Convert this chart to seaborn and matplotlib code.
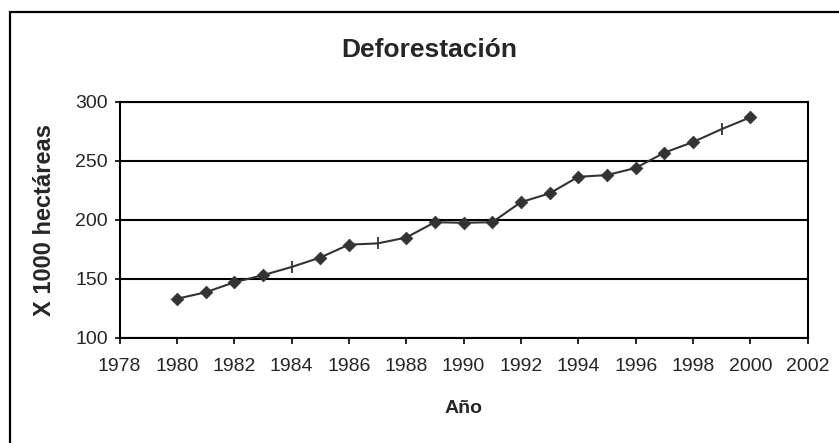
import matplotlib
matplotlib.use("Agg")
import matplotlib.pyplot as plt
import seaborn as sns
import pandas as pd
from matplotlib.patches import Rectangle

# datos
anios = list(range(1980, 2001))
hectareas = [133, 138.5, 147, 153, 160, 168, 179, 180, 185, 198, 197.5,
             198, 215, 222.5, 236.5, 238, 244, 257, 266, 277, 287]
# puntos que en el original salen con una raya en vez de rombo
sin_rombo = [1984, 1987, 1999]

y_ticks = [100, 150, 200, 250, 300]
x_ticks = list(range(1978, 2003, 2))

data = pd.DataFrame({"anio": anios, "valor": hectareas})
data["rombo"] = ~data["anio"].isin(sin_rombo)

sns.set_style("white")
plt.rcParams["font.family"] = ["Liberation Sans", "DejaVu Sans"]

fig = plt.figure(figsize=(8.39, 4.43), dpi=100)
ax = fig.add_axes([119.5 / 839, 1 - 337.7 / 443, 688.2 / 839, 235.7 / 443])

color = "#333333"
sns.lineplot(x="anio", y="valor", data=data, color=color, linewidth=1.5, ax=ax)
sns.scatterplot(x="anio", y="valor", data=data[data["rombo"]], marker="D",
                s=42, color=color, edgecolor=color, linewidth=0.5, ax=ax, zorder=3)
ax.plot(data.loc[~data["rombo"], "anio"], data.loc[~data["rombo"], "valor"],
        linestyle="none", marker="|", markersize=9, markeredgewidth=1.3,
        color=color, zorder=3)

ax.set_xlim(1978, 2002)
ax.set_ylim(100, 300)
ax.set_xticks(x_ticks)
ax.set_yticks(y_ticks)

ax.yaxis.grid(True, color="black", linewidth=1.5)
ax.xaxis.grid(False)
for s in ax.spines.values():
    s.set_color("black")
    s.set_linewidth(1.5)
    s.set_visible(True)

ax.tick_params(axis="y", direction="out", length=3.6, width=1.2, color="black",
               pad=4.7, labelsize=14, left=True)
ax.tick_params(axis="x", direction="out", length=4.3, width=1.2, color="black",
               pad=10.5, labelsize=14, bottom=True)

ax.set_title("Deforestación", fontsize=19, fontweight="bold",
             x=(429 - 119.5) / 688.2, y=(337.7 - 57) / 235.7, va="baseline", pad=0)
ax.set_xlabel("Año", fontsize=14, fontweight="bold", va="baseline")
ax.xaxis.set_label_coords(0.5, (337.7 - 413) / 235.7)
ax.set_ylabel("X 1000 hectáreas", fontsize=17, fontweight="bold", va="center")
ax.yaxis.set_label_coords((44 - 119.5) / 688.2, (337.7 - 219.5) / 235.7)

# marco exterior del grafico
fig.patches.append(Rectangle((10 / 839, -0.1), 1.2, 1 - 12 / 443 + 0.1,
                             fill=False, edgecolor="black", linewidth=1.6,
                             transform=fig.transFigure, figure=fig))

fig.savefig("out.png", dpi=100)
